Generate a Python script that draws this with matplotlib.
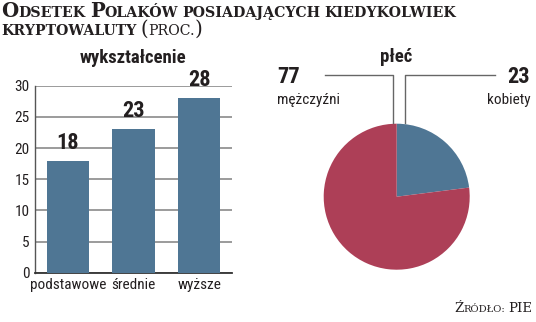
import matplotlib
matplotlib.use('Agg')
import matplotlib.pyplot as plt
from matplotlib import font_manager

# education breakdown
edu_labels = ['podstawowe', 'średnie', 'wyższe']
edu_values = [18, 23, 28]

# gender breakdown (women first, drawn clockwise from the top)
sex_labels = ['kobiety', 'mężczyźni']
sex_values = [23, 77]

BLUE = '#4f7694'
RED = '#ad3f57'
INK = '#231f20'
GRID = '#8a8a8a'

fonts = font_manager.fontManager.ttflist
names = {f.name for f in fonts}
if 'Roboto Condensed' in names:
    COND, STRETCH = 'Roboto Condensed', 'normal'
elif 'Liberation Sans Narrow' in names:
    COND, STRETCH = 'Liberation Sans Narrow', 'normal'
else:
    COND, STRETCH = 'DejaVu Sans', 'condensed'
SERIF = 'DejaVu Serif'

W, H = 536, 322
fig = plt.figure(figsize=(W / 100, H / 100), dpi=100)
fig.patch.set_facecolor('white')


def px(x, y):
    # pixel position (from top-left) -> figure fraction
    return x / W, 1 - y / H


def small_caps(x, y, s, big, small, weight='bold', align='left'):
    """Draw s in small caps: capitals at `big`, lower case as capitals at `small`.
    Returns the x (pixels) where the text ends."""
    r = fig.canvas.get_renderer()
    runs = []
    for word_i, word in enumerate(s.split(' ')):
        if word_i:
            runs.append((' ', None))
        cur, cur_big = '', None
        for ch in word:
            is_big = ch.isupper() or ch in '()'
            if cur and is_big != cur_big:
                runs.append((cur, cur_big))
                cur = ''
            cur += ch
            cur_big = is_big
        if cur:
            runs.append((cur, cur_big))
    texts = []
    cx = 0.0
    for piece, is_big in runs:
        if is_big is None:
            cx += big * 0.3
            continue
        t = fig.text(0, 0, piece.upper(), family=SERIF, weight=weight,
                     size=big if is_big else small, color=INK, va='baseline', ha='left')
        ext = t.get_window_extent(r)
        texts.append((t, cx))
        cx += ext.width
    x0 = x - cx if align == 'right' else x
    for t, off in texts:
        t.set_position(px(x0 + off, y))
    return x0 + cx


def cond(**kw):
    return dict(family=COND, stretch=STRETCH, color=INK, **kw)


# title
small_caps(1, 16.7, 'Odsetek Polaków posiadających kiedykolwiek', 14.2, 10.2)
end = small_caps(1, 35, 'kryptowaluty', 14.2, 10.2)
small_caps(end + 4, 35, '(proc.)', 14.2, 10.2, weight='normal')

# bar chart
ax = fig.add_axes([35 / W, 49.3 / H, 197 / W, 187 / H])
xs = range(len(edu_values))
bars = ax.bar(xs, edu_values, width=0.64, color=BLUE, zorder=3)
ax.set_xlim(-0.5, 2.5)
ax.set_ylim(0, 30)
ax.set_yticks(range(0, 31, 5))
ax.yaxis.grid(True, color=GRID, linewidth=1.2, zorder=0)
ax.set_xticks(list(xs))
ax.set_xticklabels(edu_labels)
ax.tick_params(axis='both', length=0, labelcolor=INK)
ax.tick_params(axis='x', pad=4, labelsize=11)
ax.tick_params(axis='y', pad=4, labelsize=11)
for lab in ax.get_xticklabels() + ax.get_yticklabels():
    lab.set_family(COND)
    lab.set_stretch(STRETCH)
for side in ['top', 'right']:
    ax.spines[side].set_visible(False)
ax.spines['left'].set_color('#555555')
ax.spines['bottom'].set_color('#333333')
ax.spines['left'].set_linewidth(1.0)
ax.spines['bottom'].set_linewidth(1.3)
for b, v in zip(bars, edu_values):
    ax.text(b.get_x() + b.get_width() / 2, v + 1.1, str(v), ha='center', va='bottom',
            **cond(weight='bold', size=16))
fig.text(*px(133, 58), 'wykształcenie', ha='center', va='center', **cond(weight='bold', size=13.5))

# pie chart
pax = fig.add_axes([(396.7 - 73) / W, (322 - 196.7 - 73) / H, 146 / W, 146 / H])
pax.pie(sex_values, colors=[BLUE, RED], startangle=90, counterclock=False,
        wedgeprops=dict(linewidth=0))
pax.set_xlim(-1, 1)
pax.set_ylim(-1, 1)
pax.set_aspect('equal')

# leader lines from the labels down to the top of the pie
for pts in ([-0.98, -0.055, -0.055], [1.345, 0.11, 0.11]):
    pax.plot(pts, [1.667, 1.667, 1.01], color='#666666', linewidth=1.0, clip_on=False)

fig.text(*px(396, 57), 'płeć', ha='center', va='center', **cond(weight='bold', size=13.5))
fig.text(*px(277, 77), str(sex_values[1]), ha='left', va='center', **cond(weight='bold', size=16))
fig.text(*px(277, 100), sex_labels[1], ha='left', va='center', **cond(size=11))
fig.text(*px(530, 77), str(sex_values[0]), ha='right', va='center', **cond(weight='bold', size=16))
fig.text(*px(531, 100), sex_labels[0], ha='right', va='center', **cond(size=11))

# source
small_caps(532, 311.5, 'Źródło: PIE', 9.5, 7.2, weight='normal', align='right')

fig.savefig('out.png', dpi=100)
